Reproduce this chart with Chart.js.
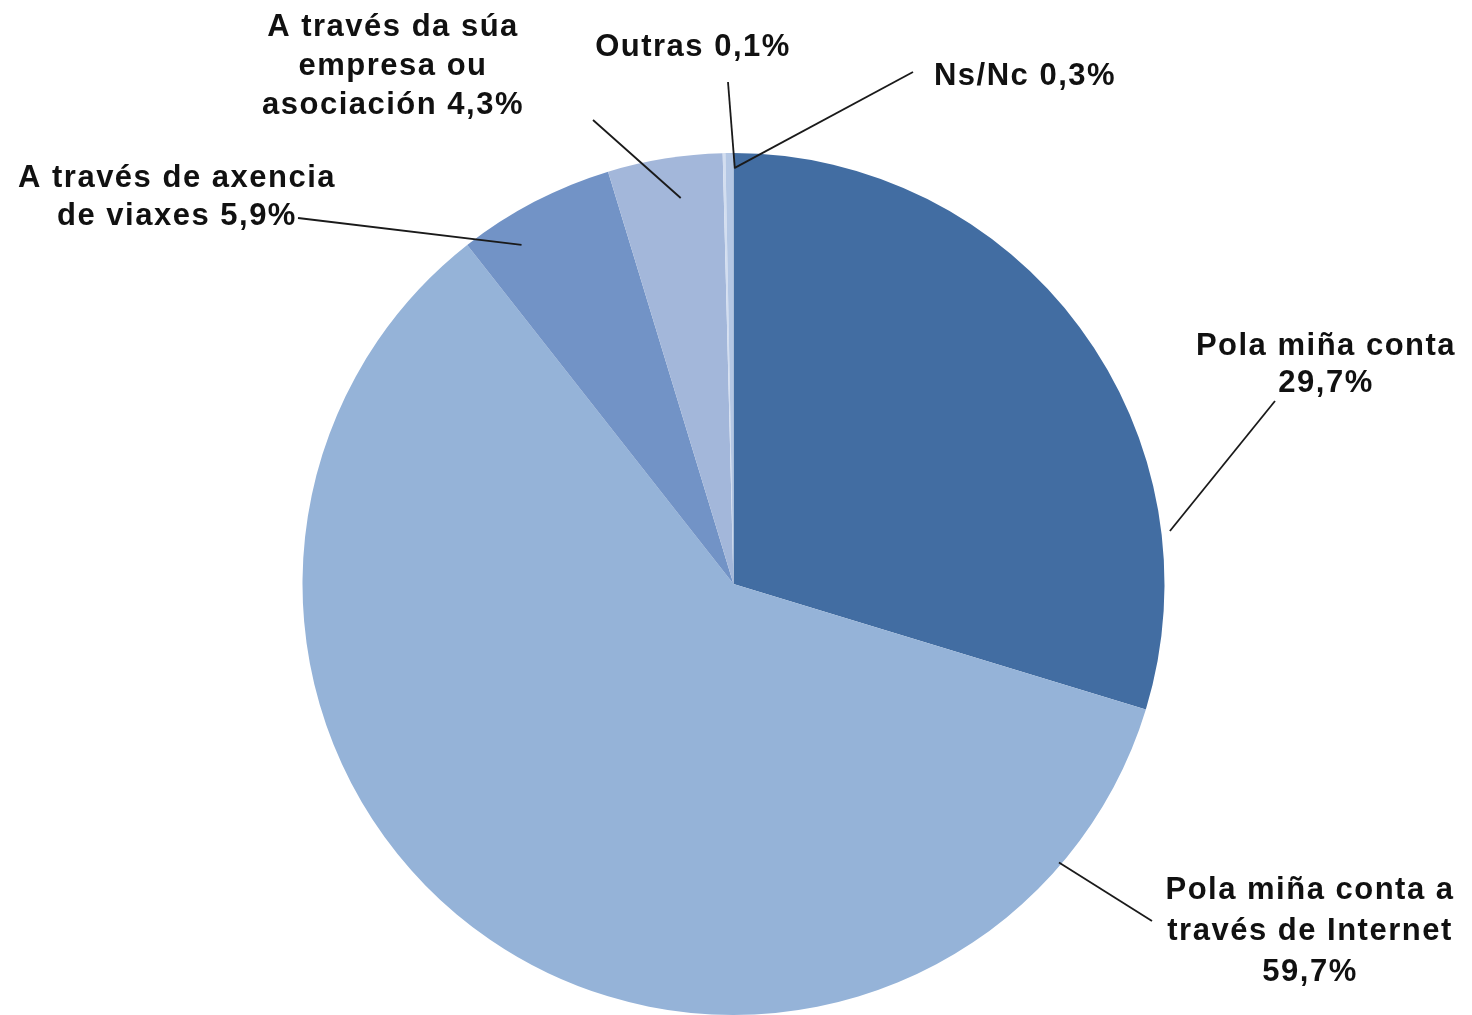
<!DOCTYPE html>
<html>
<head>
<meta charset="utf-8">
<script src="https://cdn.jsdelivr.net/npm/chart.js@4.4.1/dist/chart.umd.min.js"></script>
<style>
  html, body { margin: 0; padding: 0; background: #fff; }
  #wrap { width: 1472px; height: 1015px; }
</style>
</head>
<body>
<div id="wrap"><canvas id="pie"></canvas></div>
<script>
// data
const categories = [
  "Pola miña conta",
  "Pola miña conta a través de Internet",
  "A través de axencia de viaxes",
  "A través da súa empresa ou asociación",
  "Outras",
  "Ns/Nc",
];
const values = [29.7, 59.7, 5.9, 4.3, 0.1, 0.3];
const colors = ["#426da2", "#95b3d8", "#7293c6", "#a3b7da", "#d3def0", "#b4c7e4"];

// label layout: words per line, centre x, first line y, line gap
const wordsPerLine = [[3, 1], [4, 3, 1], [4, 3], [4, 2, 2], [2], [2]];
const labelPos = [
  [1326, 346, 37],
  [1310, 890, 41],
  [177, 178, 38],
  [393, 27, 39],
  [693, 47, 0],
  [1025, 76, 0],
];
// leader lines: where along the slice (0..1, may run past), radius factor, end near the text
const anchors = [
  [0.777, 1.02, 1275, 401],
  [0.11, 0.994, 1152, 921],
  [0.29, 0.928, 298, 218],
  [0.59, 0.904, 593, 120],
  [4.5, 0.965, 728, 82],
  [1.1, 0.965, 913, 72],
];

const pct = (v) => v.toFixed(1).replace(".", ",") + "%";

const labelPlugin = {
  id: "outerLabels",
  afterDraw(chart) {
    const ctx = chart.ctx;
    const arcs = chart.getDatasetMeta(0).data;
    ctx.save();
    arcs.forEach((arc, i) => {
      const p = arc.getProps(["x", "y", "startAngle", "endAngle", "outerRadius"], true);
      const a = anchors[i];
      const ang = p.startAngle + a[0] * (p.endAngle - p.startAngle);
      const r = p.outerRadius * a[1];
      ctx.strokeStyle = "#1a1a1a";
      ctx.lineWidth = 1.8;
      ctx.beginPath();
      ctx.moveTo(p.x + Math.cos(ang) * r, p.y + Math.sin(ang) * r);
      ctx.lineTo(a[2], a[3]);
      ctx.stroke();

      // split "name value%" into lines
      const words = (categories[i] + " " + pct(values[i])).split(" ");
      const lines = [];
      let k = 0;
      wordsPerLine[i].forEach((n) => {
        lines.push(words.slice(k, k + n).join(" "));
        k += n;
      });
      ctx.fillStyle = "#111";
      ctx.font = "bold 31px 'Liberation Sans', Arial, sans-serif";
      ctx.letterSpacing = "1.5px";
      ctx.textAlign = "center";
      ctx.textBaseline = "middle";
      const [cx, cy, gap] = labelPos[i];
      lines.forEach((t, j) => ctx.fillText(t, cx, cy + j * gap));
    });
    ctx.restore();
  },
};

new Chart(document.getElementById("pie"), {
  type: "pie",
  data: {
    labels: categories,
    datasets: [{
      data: values,
      backgroundColor: colors,
      borderWidth: 0,
    }],
  },
  options: {
    responsive: true,
    maintainAspectRatio: false,
    animation: false,
    events: [],
    layout: { padding: { top: 153, bottom: 0, left: 302, right: 307 } },
    plugins: {
      legend: { display: false },
      tooltip: { enabled: false },
    },
  },
  plugins: [labelPlugin],
});
</script>
</body>
</html>
